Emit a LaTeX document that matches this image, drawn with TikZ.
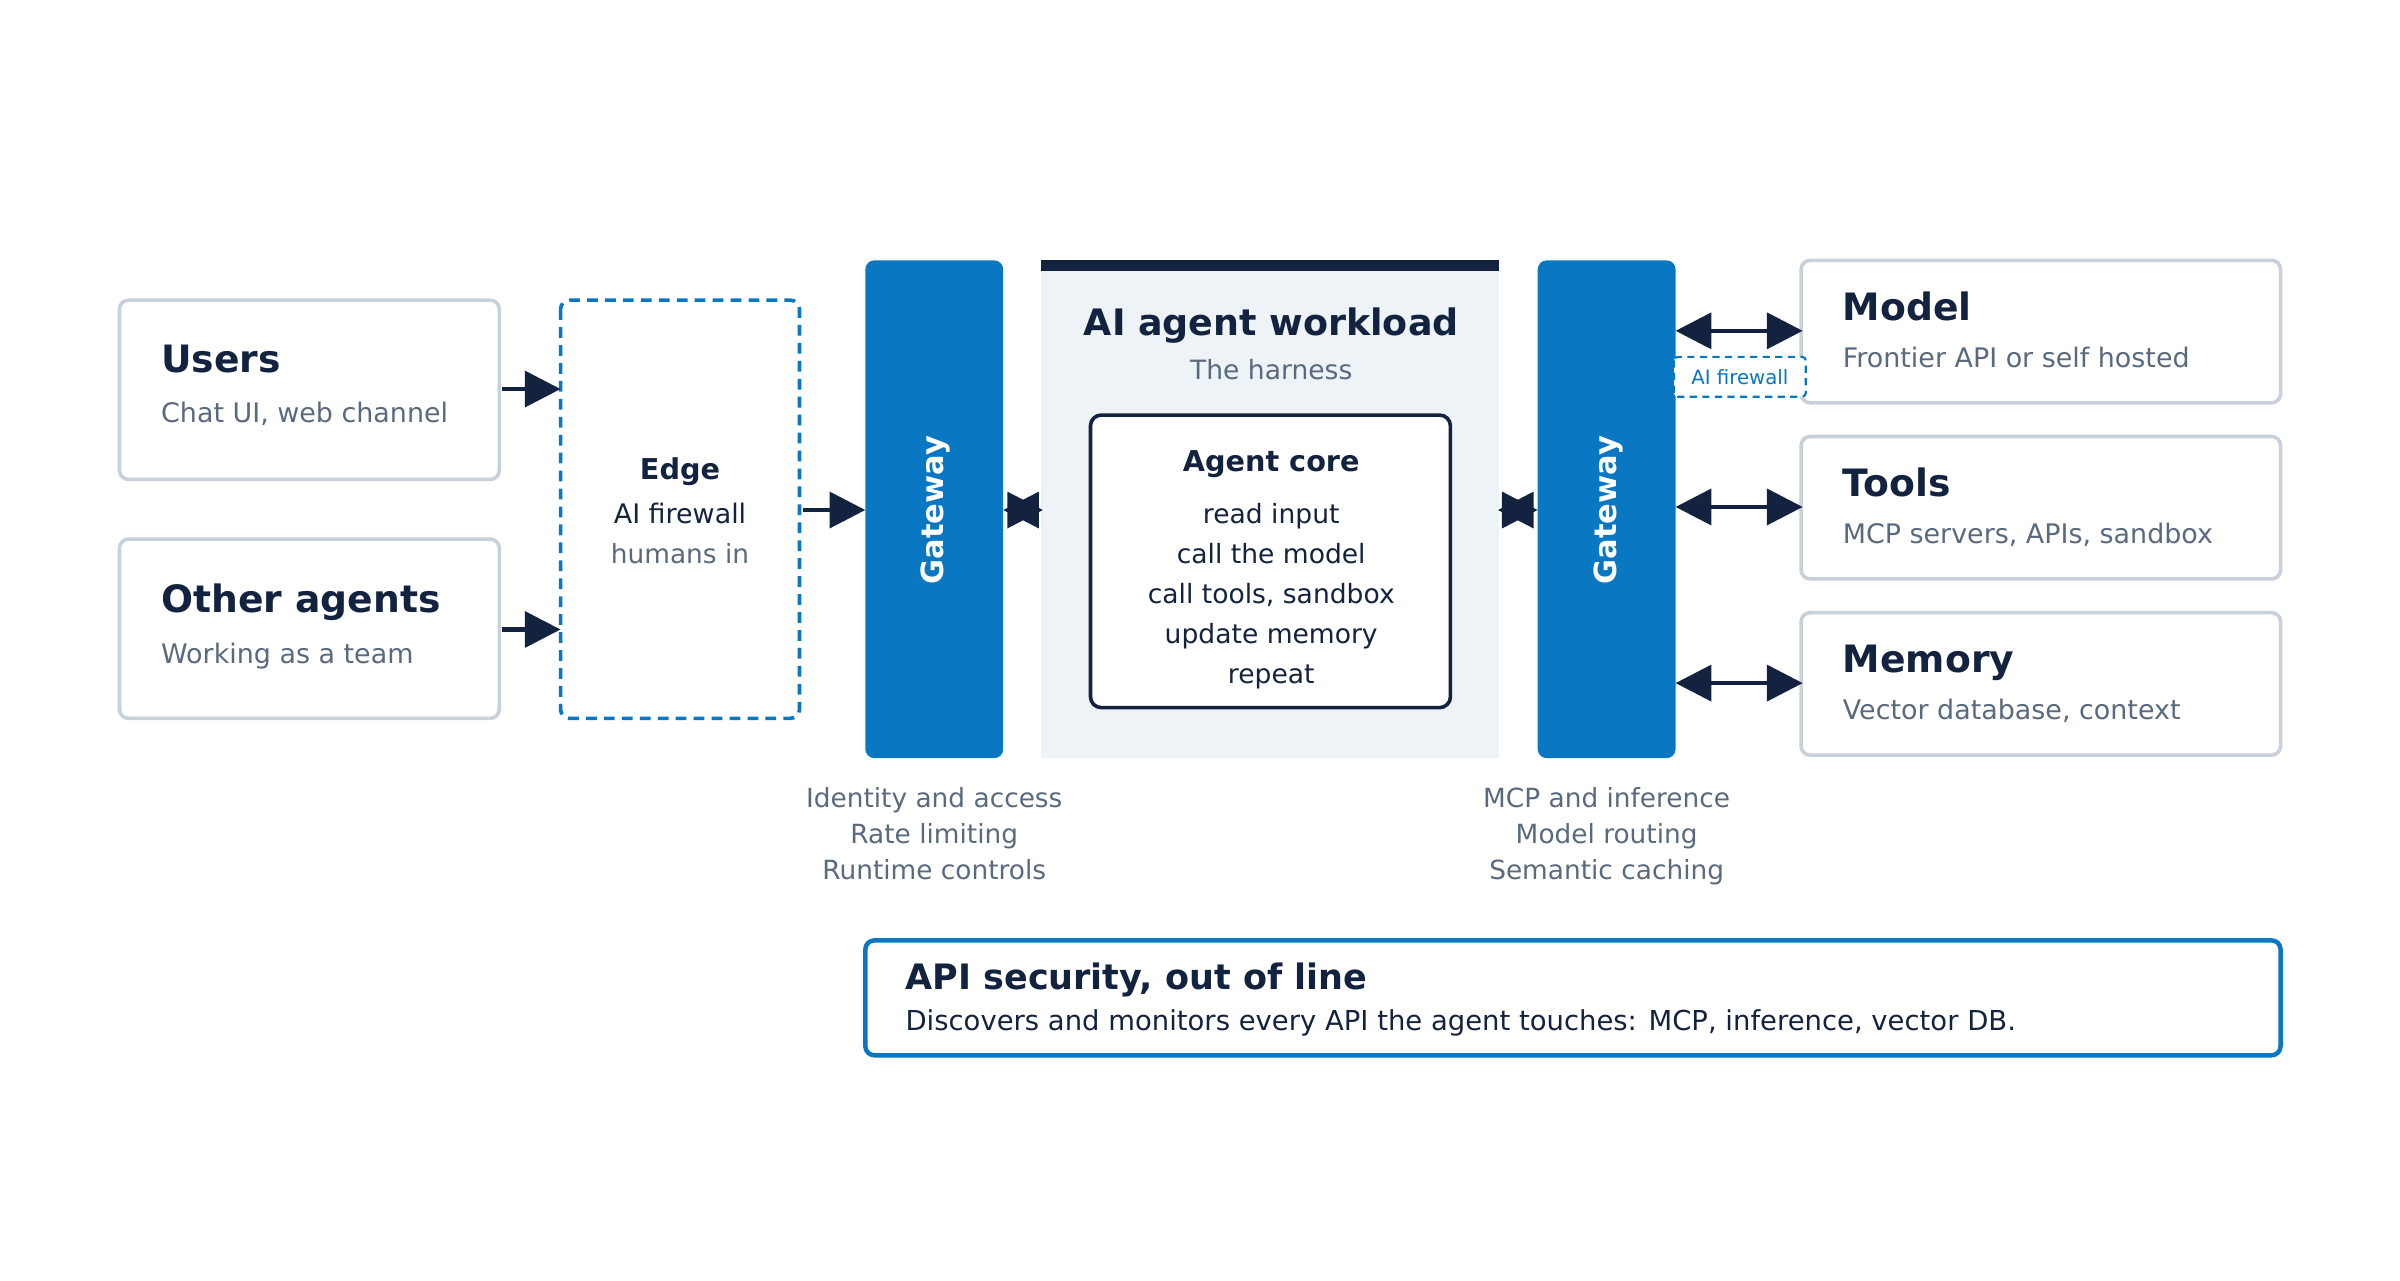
\documentclass[tikz,border=0pt]{standalone}
\usepackage{fontspec}
\setmainfont{DejaVu Sans}
\usetikzlibrary{arrows.meta}
\definecolor{navy}{HTML}{13233F}
\definecolor{blu}{HTML}{0A77C2}
\definecolor{gbord}{HTML}{C8D0DA}
\definecolor{gtxt}{HTML}{5A6A7E}
\definecolor{panel}{HTML}{EEF3F8}
\begin{document}
\begin{tikzpicture}[x=0.03cm,y=-0.03cm,
 card/.style={draw=gbord,line width=2pt,rounded corners=5pt,fill=white},
 ttl/.style={anchor=base west,inner sep=0pt,font=\fontsize{21}{24}\selectfont\bfseries,text=navy},
 sub/.style={anchor=base west,inner sep=0pt,font=\fontsize{15}{18}\selectfont,text=gtxt},
 captxt/.style={font=\fontsize{14.7}{18}\selectfont,text=gtxt,anchor=base},
 ar/.style={-{Triangle[length=0.7cm,width=0.7cm]},draw=navy,line width=2.5pt},
 dar/.style={{Triangle[length=0.7cm,width=0.7cm]}-{Triangle[length=0.7cm,width=0.7cm]},draw=navy,line width=2.5pt},
 gw/.style={fill=blu,rounded corners=5pt},
 gwt/.style={rotate=90,text=white,font=\fontsize{17}{20}\selectfont\bfseries}]
\useasboundingbox (0,0) rectangle (1567,836);
% left cards
\draw[card] (78,196) rectangle (326,313);
\node[ttl] (usersT) at (105,243) {Users};
\node[sub] (usersS) at (105,276) {Chat UI, web channel};
\draw[card] (78,352) rectangle (326,469);
\node[ttl] (othT) at (105,400) {Other agents};
\node[sub] (othS) at (105,433) {Working as a team};
\coordinate (u) at (328,254); \coordinate (o) at (328,411);
% edge
\draw[blu,dashed,line width=2pt,rounded corners=5pt,dash pattern=on 6pt off 4pt] (366,196) rectangle (522,469);
\coordinate (eu) at (366,254); \coordinate (eo) at (366,411);
\node[anchor=base,font=\fontsize{16}{20}\selectfont\bfseries,text=navy] (edgeT) at (444,313) {Edge};
\node[anchor=base,font=\fontsize{15}{18}\selectfont,text=navy] (edgeS) at (444,342) {AI firewall};
\node[captxt] (edgeH) at (444,368) {humans in};
\draw[ar] (u) -- (eu); \draw[ar] (o) -- (eo);
\coordinate (er) at (524,333); \coordinate (gl) at (565,333);
\draw[ar] (er) -- (gl);
% gateways
\fill[gw] (565,170) rectangle (655,495);
\node[gwt] (g1) at (611,333) {Gateway};
\fill[gw] (1004,170) rectangle (1094,495);
\node[gwt] (g2) at (1050,333) {Gateway};
% panel
\fill[panel] (680,170) rectangle (979,495);
\fill[navy] (680,170) rectangle (979,177);
\node[anchor=base,font=\fontsize{20.3}{24}\selectfont\bfseries,text=navy] (wt) at (830,219) {AI agent workload};
\node[anchor=base,font=\fontsize{14.8}{18}\selectfont,text=gtxt] (ws) at (830,248) {The harness};
\draw[navy,line width=2pt,rounded corners=6pt,fill=white] (712,271) rectangle (947,462);
\node[anchor=base,font=\fontsize{16}{20}\selectfont\bfseries,text=navy] (ac) at (830,308) {Agent core};
\foreach \t/\y in {read input/342,call the model/368,{call tools, sandbox}/394,update memory/420,repeat/446}
  \node[anchor=base,font=\fontsize{14.8}{18}\selectfont,text=navy] at (830,\y) {\t};
\coordinate (a1) at (655,333); \coordinate (a2) at (681,333);
\draw[dar] (a1) -- (a2);
\coordinate (b1) at (978,333); \coordinate (b2) at (1004,333);
\draw[dar] (b1) -- (b2);
% right cards
\draw[card] (1176,170) rectangle (1489,263);
\node[ttl] (mT) at (1203,209) {Model};
\node[sub] (mS) at (1203,240) {Frontier API or self hosted};
\draw[card] (1176,285) rectangle (1489,378);
\node[ttl] (tT) at (1203,324) {Tools};
\node[sub] (tS) at (1203,355) {MCP servers, APIs, sandbox};
\draw[card] (1176,400) rectangle (1489,493);
\node[ttl] (meT) at (1203,439) {Memory};
\node[sub] (meS) at (1203,470) {Vector database, context};
\foreach \y/\n in {216/m,331/t,446/me}{
  \coordinate (l\n) at (1094,\y); \coordinate (r\n) at (1177,\y);
  \draw[dar] (l\n) -- (r\n);}
\draw[blu,dashed,line width=1.2pt,rounded corners=2pt,fill=white,dash pattern=on 4pt off 3pt] (1093,233) rectangle (1179,259);
\node[font=\fontsize{11}{13}\selectfont,text=blu] (fw) at (1136,246) {AI firewall};
% captions
\node[captxt] at (610,527) {Identity and access};
\node[captxt] at (610,551) {Rate limiting};
\node[captxt] at (610,574) {Runtime controls};
\node[captxt] at (1049,527) {MCP and inference};
\node[captxt] at (1049,551) {Model routing};
\node[captxt] at (1049,574) {Semantic caching};
% API
\draw[blu,line width=2.5pt,rounded corners=5pt] (565,614) rectangle (1489,689);
\node[anchor=base west,inner sep=0pt,font=\fontsize{19.5}{22}\selectfont\bfseries,text=navy] (apiT) at (591,646) {API security, out of line};
\node[anchor=base west,inner sep=0pt,font=\fontsize{15.3}{18}\selectfont,text=navy] (apiS) at (591,673) {Discovers and monitors every API the agent touches: MCP, inference, vector DB.};
\end{tikzpicture}
\end{document}
